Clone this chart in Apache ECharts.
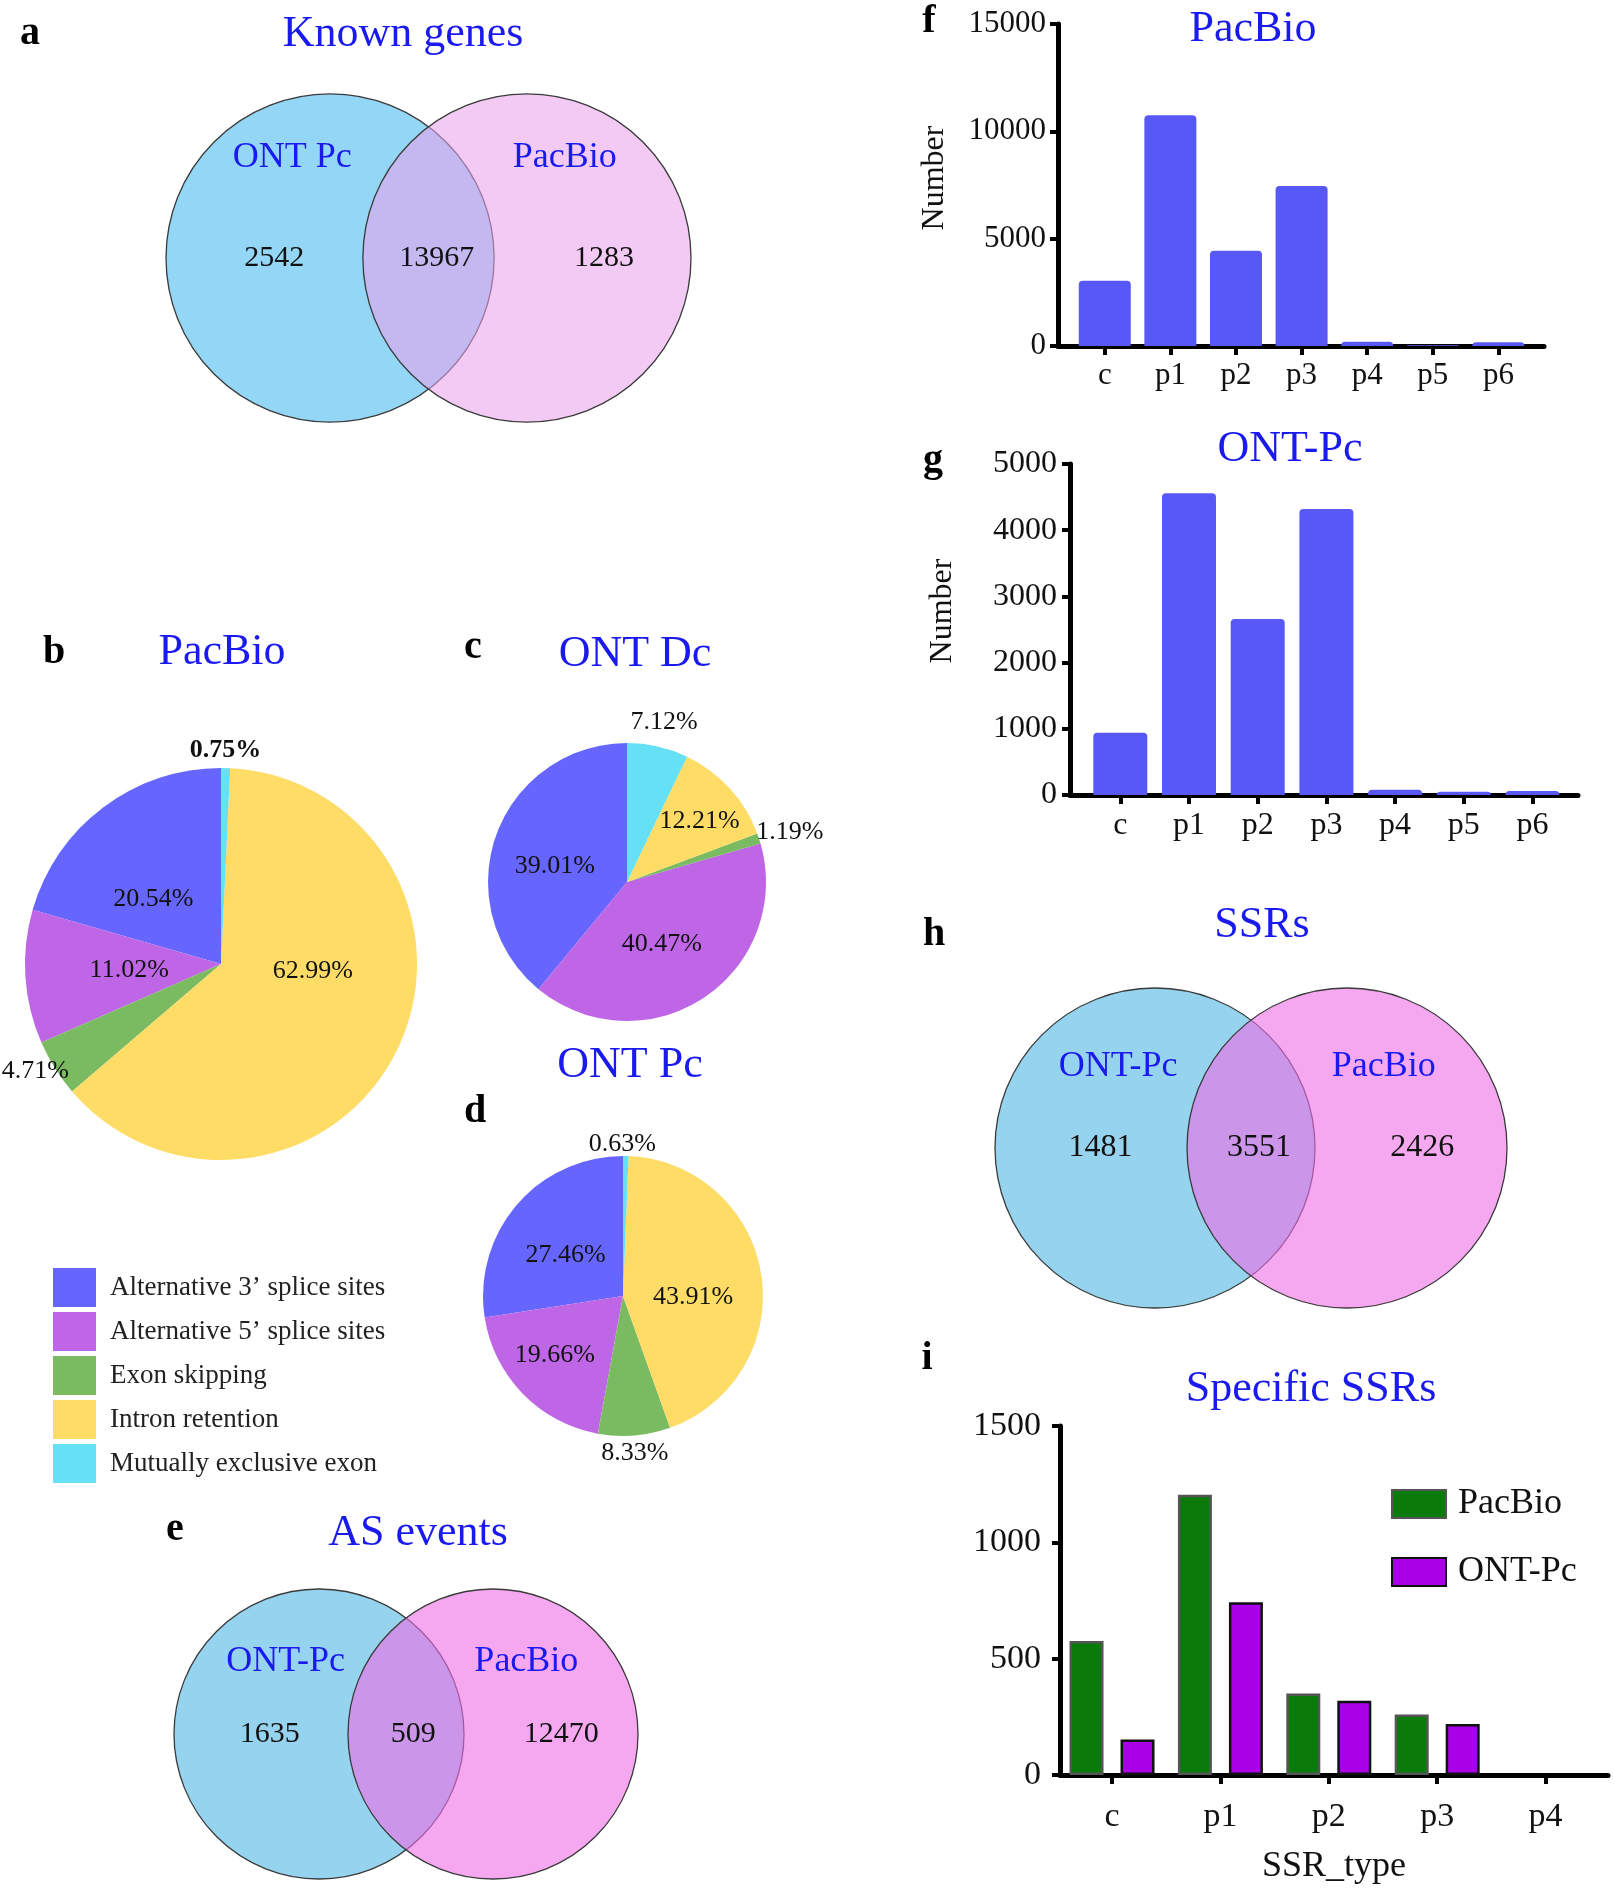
<!DOCTYPE html>
<html>
<head>
<meta charset="utf-8">
<script src="https://cdn.jsdelivr.net/npm/echarts@6/dist/echarts.min.js"></script>
<style>
html,body{margin:0;padding:0;background:#fff;}
#chart{width:1614px;height:1888px;}
</style>
</head>
<body>
<div id="chart"></div>
<script>
// ---------------- DATA ----------------
const asTypes = ['Alternative 3\u2019 splice sites', 'Alternative 5\u2019 splice sites', 'Exon skipping', 'Intron retention', 'Mutually exclusive exon'];
const pacbioAS = [20.54, 11.02, 4.71, 62.99, 0.75];
const ontDcAS = [39.01, 40.47, 1.19, 12.21, 7.12];
const ontPcAS = [27.46, 19.66, 8.33, 43.91, 0.63];

const ssrTypes7 = ['c', 'p1', 'p2', 'p3', 'p4', 'p5', 'p6'];
const pacbioSSR = [3040, 10750, 4440, 7450, 200, 30, 170];
const ontPcSSR = [940, 4560, 2660, 4320, 80, 50, 60];

const ssrTypes5 = ['c', 'p1', 'p2', 'p3', 'p4'];
const specificPacBio = [576, 1204, 350, 260, 0];
const specificOntPc = [153, 743, 319, 219, 0];

const knownGenesSets = ['ONT Pc', 'PacBio'];
const knownGenes = [2542, 13967, 1283];
const ssrVennSets = ['ONT-Pc', 'PacBio'];
const ssrVenn = [1481, 3551, 2426];
const asVennSets = ['ONT-Pc', 'PacBio'];
const asVenn = [1635, 509, 12470];

// ---------------- STYLE ----------------
const FF = "'Liberation Serif', 'Times New Roman', serif";
const BLUE = '#1a1aee';
const pieColors = ['#6666ff', '#bf66e6', '#7abb61', '#ffdc66', '#66e0f5'];
const barBlue = '#5858f6';

const chart = echarts.init(document.getElementById('chart'), null, {renderer: 'canvas', width: 1614, height: 1888});

function idx(arr) { return arr.map((v, i) => i); }

function barXAxis(grid, min, max, cats, fs, margin) {
  return {
    gridIndex: grid, type: 'value', min: min, max: max,
    axisLine: {show: true, onZero: false, lineStyle: {color: '#000', width: 5}},
    axisTick: {show: true, customValues: idx(cats), length: 9, lineStyle: {color: '#000', width: 4}},
    axisLabel: {show: true, customValues: idx(cats), formatter: v => cats[Math.round(v)], fontSize: fs, fontFamily: FF, color: '#111', margin: margin},
    splitLine: {show: false}
  };
}
function barYAxis(grid, max, interval, fs, margin) {
  return {
    gridIndex: grid, type: 'value', min: 0, max: max, interval: interval,
    axisLine: {show: true, onZero: false, lineStyle: {color: '#000', width: 5}},
    axisTick: {show: true, length: 8, lineStyle: {color: '#000', width: 4}},
    axisLabel: {fontSize: fs, fontFamily: FF, color: '#111', margin: margin, formatter: v => String(v)},
    splitLine: {show: false}
  };
}
function hiddenAxis(grid, min, max) {
  return {gridIndex: grid, type: 'value', min: min, max: max, show: false, splitLine: {show: false}};
}

function vennSeries(ax, sets, counts, colors, nameY, numFs) {
  const centers = [-0.6, 0.6];
  const textPos = [[-0.83, nameY], [0.83, nameY], [-0.94, 0], [0.05, 0], [1.07, 0]];
  return [
    {
      type: 'custom', xAxisIndex: ax, yAxisIndex: ax, silent: true, z: 2,
      data: centers.map(x => [x, 0, 1]),
      renderItem: (p, api) => {
        const c = api.coord([api.value(0), api.value(1)]);
        const r = api.size([api.value(2), 0])[0];
        return {type: 'circle', shape: {cx: c[0], cy: c[1], r: r},
          style: {fill: colors[p.dataIndex], stroke: '#3a3a3a', lineWidth: 1.3}};
      }
    },
    {
      type: 'custom', xAxisIndex: ax, yAxisIndex: ax, silent: true, z: 4,
      data: textPos,
      renderItem: (p, api) => {
        const c = api.coord([api.value(0), api.value(1)]);
        const i = p.dataIndex;
        const isName = i < 2;
        return {type: 'text', x: c[0], y: c[1],
          style: {text: isName ? sets[i] : String(counts[i - 2]), fill: isName ? BLUE : '#111',
            fontSize: isName ? 36 : numFs, fontFamily: FF, align: 'center', verticalAlign: 'middle'}};
      }
    }
  ];
}

function pieSeries(name, values, center, radius, offsets, boldIdx) {
  return {
    type: 'pie', name: name, center: center, radius: radius, startAngle: 90, clockwise: false,
    silent: true, avoidLabelOverlap: false, emphasis: {disabled: true},
    itemStyle: {borderWidth: 0},
    data: values.map((v, i) => ({
      name: asTypes[i], value: v, itemStyle: {color: pieColors[i]},
      label: i === boldIdx ? {fontWeight: 'bold'} : {}
    })),
    label: {show: true, position: 'inside', formatter: p => p.value.toFixed(2) + '%',
      fontSize: 26, fontFamily: FF, color: '#111'},
    labelLine: {show: false},
    labelLayout: p => ({dx: offsets[p.dataIndex][0], dy: offsets[p.dataIndex][1]})
  };
}

function barData(vals) {
  return vals.map((v, i) => v === 0 ? {value: [i, v], itemStyle: {borderWidth: 0}} : {value: [i, v]});
}

function txt(text, x, y, fs, color, bold, rot) {
  return {type: 'text', x: x, y: y, rotation: rot || 0, silent: true,
    style: {text: text, fontSize: fs, fontFamily: FF, fill: color, fontWeight: bold ? 'bold' : 'normal',
      align: 'center', verticalAlign: 'middle'}};
}

const option = {
  backgroundColor: '#ffffff',
  animation: false,
  grid: [
    {left: 1058, top: 24, width: 486, height: 322, outerBoundsMode: 'none'},   // f
    {left: 1070, top: 464, width: 508, height: 331, outerBoundsMode: 'none'},  // g
    {left: 1060, top: 1426, width: 548, height: 349, outerBoundsMode: 'none'}, // i
    {left: 166, top: 94, width: 525, height: 328, outerBoundsMode: 'none'},    // venn a
    {left: 995, top: 988, width: 512, height: 320, outerBoundsMode: 'none'},   // venn h
    {left: 174, top: 1589, width: 464, height: 290, outerBoundsMode: 'none'}   // venn e
  ],
  xAxis: [
    barXAxis(0, -0.713, 6.695, ssrTypes7, 31, 14),
    barXAxis(1, -0.732, 6.662, ssrTypes7, 32, 15),
    Object.assign(barXAxis(2, -0.48, 4.576, ssrTypes5, 34, 25), {
      name: 'SSR_type', nameLocation: 'middle', nameGap: 74,
      nameTextStyle: {fontSize: 36, fontFamily: FF, color: '#111'}
    }),
    hiddenAxis(3, -1.6, 1.6), hiddenAxis(4, -1.6, 1.6), hiddenAxis(5, -1.6, 1.6)
  ],
  yAxis: [
    barYAxis(0, 15000, 5000, 31, 12),
    barYAxis(1, 5000, 1000, 32, 13),
    barYAxis(2, 1500, 500, 34, 19),
    hiddenAxis(3, -1, 1), hiddenAxis(4, -1, 1), hiddenAxis(5, -1, 1)
  ],
  legend: [
    {
      data: asTypes, orient: 'vertical', left: 53, top: 1268, icon: 'rect', padding: 0,
      itemWidth: 43, itemHeight: 39, itemGap: 5, selectedMode: false,
      textStyle: {fontSize: 27, fontFamily: FF, color: '#222', padding: [0, 0, 0, 9]}
    },
    {
      data: ['PacBio', 'ONT-Pc'], orient: 'vertical', left: 1391, top: 1486, icon: 'rect', padding: 0,
      itemWidth: 54, itemHeight: 28, itemGap: 32, selectedMode: false,
      textStyle: {fontSize: 36, fontFamily: FF, color: '#111', padding: [0, 0, 0, 7]}
    }
  ],
  series: [
    {
      type: 'bar', name: 'PacBio SSR', xAxisIndex: 0, yAxisIndex: 0, silent: true, barWidth: 52,
      itemStyle: {color: barBlue, borderRadius: [4, 4, 0, 0]},
      data: barData(pacbioSSR)
    },
    {
      type: 'bar', name: 'ONT-Pc SSR', xAxisIndex: 1, yAxisIndex: 1, silent: true, barWidth: 54,
      itemStyle: {color: barBlue, borderRadius: [4, 4, 0, 0]},
      data: barData(ontPcSSR)
    },
    {
      type: 'bar', name: 'PacBio', xAxisIndex: 2, yAxisIndex: 2, silent: true, barWidth: 34, barGap: '50%',
      itemStyle: {color: '#0a7a0a', borderColor: '#555555', borderWidth: 2.5},
      data: barData(specificPacBio)
    },
    {
      type: 'bar', name: 'ONT-Pc', xAxisIndex: 2, yAxisIndex: 2, silent: true, barWidth: 34, barGap: '50%',
      itemStyle: {color: '#aa00e8', borderColor: '#111111', borderWidth: 2.5},
      data: barData(specificOntPc)
    },
    pieSeries('pie-b', pacbioAS, [221, 964], 196,
      [[-7, 16], [9, 0], [-100, 54], [1, -37], [2, -113]], 4),
    pieSeries('pie-c', ontDcAS, [627, 882], 139,
      [[-4, 9], [-5, 2], [94, -27], [19, -12], [21, -89]], -1),
    pieSeries('pie-d', ontPcAS, [623, 1296], 140,
      [[-2, 7], [-16, 8], [6, 84], [-2, 12], [-2, -79]], -1)
  ].concat(
    vennSeries(3, knownGenesSets, knownGenes, ['#93d6f6', 'rgba(232,162,236,0.57)'], 0.61, 30),
    vennSeries(4, ssrVennSets, ssrVenn, ['#96d3ee', 'rgba(238,110,230,0.6)'], 0.51, 32),
    vennSeries(5, asVennSets, asVenn, ['#96d3ee', 'rgba(238,110,230,0.6)'], 0.5, 30)
  ),
  graphic: {elements: [
    txt('a', 30, 34, 40, '#000', true),
    txt('b', 54, 653, 40, '#000', true),
    txt('c', 473, 648, 40, '#000', true),
    txt('d', 475, 1112, 40, '#000', true),
    txt('e', 175, 1530, 40, '#000', true),
    txt('f', 929, 22, 40, '#000', true),
    txt('g', 933, 461, 40, '#000', true),
    txt('h', 934, 935, 40, '#000', true),
    txt('i', 927, 1359, 40, '#000', true),
    txt('Known genes', 403, 34, 44, BLUE),
    txt('PacBio', 1253, 29, 44, BLUE),
    txt('ONT-Pc', 1290, 449, 44, BLUE),
    txt('PacBio', 222, 652, 44, BLUE),
    txt('ONT Dc', 635, 654, 44, BLUE),
    txt('ONT Pc', 630, 1065, 44, BLUE),
    txt('SSRs', 1262, 925, 44, BLUE),
    txt('Specific SSRs', 1311, 1389, 44, BLUE),
    txt('AS events', 418, 1533, 44, BLUE),
    txt('Number', 935, 178, 32, '#111', false, Math.PI / 2),
    txt('Number', 943, 611, 32, '#111', false, Math.PI / 2)
  ]}
};
chart.setOption(option);
</script>
</body>
</html>
